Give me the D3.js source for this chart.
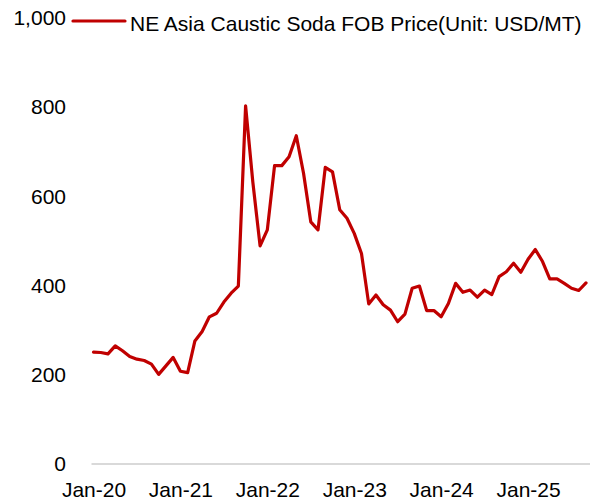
<!DOCTYPE html>
<html>
<head>
<meta charset="utf-8">
<script src="https://cdn.jsdelivr.net/npm/d3@7"></script>
<style>
  html, body { margin: 0; padding: 0; background: #fff; }
  svg { display: block; font-family: "Liberation Sans", Arial, sans-serif; }
</style>
</head>
<body>
<svg id="chart" width="590" height="500"></svg>
<script>
// Monthly categories, Jan 2020 – Sep 2025
const months = [
  "2020-01","2020-02","2020-03","2020-04","2020-05","2020-06","2020-07","2020-08","2020-09","2020-10","2020-11","2020-12",
  "2021-01","2021-02","2021-03","2021-04","2021-05","2021-06","2021-07","2021-08","2021-09","2021-10","2021-11","2021-12",
  "2022-01","2022-02","2022-03","2022-04","2022-05","2022-06","2022-07","2022-08","2022-09","2022-10","2022-11","2022-12",
  "2023-01","2023-02","2023-03","2023-04","2023-05","2023-06","2023-07","2023-08","2023-09","2023-10","2023-11","2023-12",
  "2024-01","2024-02","2024-03","2024-04","2024-05","2024-06","2024-07","2024-08","2024-09","2024-10","2024-11","2024-12",
  "2025-01","2025-02","2025-03","2025-04","2025-05","2025-06","2025-07","2025-08","2025-09"
];

// NE Asia caustic soda FOB price, USD/MT
const price = [
  251, 250, 247, 265, 254, 241, 235, 232, 224, 201, 220, 239,
  208, 205, 276, 297, 330, 338, 363, 383, 399, 803, 632, 489,
  525, 669, 669, 689, 736, 652, 543, 525, 665, 655, 570, 551,
  517, 472, 359, 379, 357, 345, 319, 336, 394, 399, 344, 344,
  330, 360, 405, 385, 390, 374, 390, 380, 420, 431, 450, 430,
  459, 481, 454, 415, 415, 405, 394, 389, 406
];

const xTickLabels = ["Jan-20", "Jan-21", "Jan-22", "Jan-23", "Jan-24", "Jan-25"];
const yTicks = [0, 200, 400, 600, 800, 1000];
const seriesName = "NE Asia Caustic Soda FOB Price(Unit: USD/MT)";

const svg = d3.select("#chart");
const fontSize = 21;
const lineColor = "#C00000";

const x = d3.scaleLinear().domain([0, months.length - 1]).range([93.5, 586]);
const y = d3.scaleLinear().domain([0, 1000]).range([464, 18]);

// Y axis labels (no axis line, no tick marks)
const yAxis = svg.append("g")
  .attr("transform", "translate(66,0)")
  .call(d3.axisLeft(y).tickValues(yTicks).tickSize(0).tickPadding(0).tickFormat(d3.format(",")));
yAxis.select(".domain").remove();
yAxis.selectAll("text").attr("font-size", fontSize).attr("fill", "#000").attr("font-family", null);

// X axis baseline
svg.append("line")
  .attr("x1", 91.5).attr("x2", 590)
  .attr("y1", y(0)).attr("y2", y(0))
  .attr("stroke", "#D9D9D9").attr("stroke-width", 2);

// X axis labels every 12 months
const xTickIdx = xTickLabels.map((_, i) => i * 12);
const xAxis = svg.append("g")
  .attr("transform", `translate(0,${y(0)})`)
  .call(d3.axisBottom(x).tickValues(xTickIdx).tickSize(0).tickPadding(18)
    .tickFormat((d, i) => xTickLabels[i]));
xAxis.select(".domain").remove();
xAxis.selectAll("text").attr("font-size", fontSize).attr("fill", "#000").attr("font-family", null);

// Price line
const line = d3.line()
  .x((d, i) => x(i))
  .y(d => y(d));

svg.append("path")
  .datum(price)
  .attr("d", line)
  .attr("fill", "none")
  .attr("stroke", lineColor)
  .attr("stroke-width", 3.2)
  .attr("stroke-linejoin", "round")
  .attr("stroke-linecap", "round");

// Legend
const legend = svg.append("g");
legend.append("line")
  .attr("x1", 73).attr("x2", 125)
  .attr("y1", 21).attr("y2", 21)
  .attr("stroke", lineColor).attr("stroke-width", 3.2)
  .attr("stroke-linecap", "round");
legend.append("text")
  .attr("x", 130).attr("y", 30.5)
  .attr("font-size", fontSize)
  .attr("fill", "#000")
  .text(seriesName);
</script>
</body>
</html>
